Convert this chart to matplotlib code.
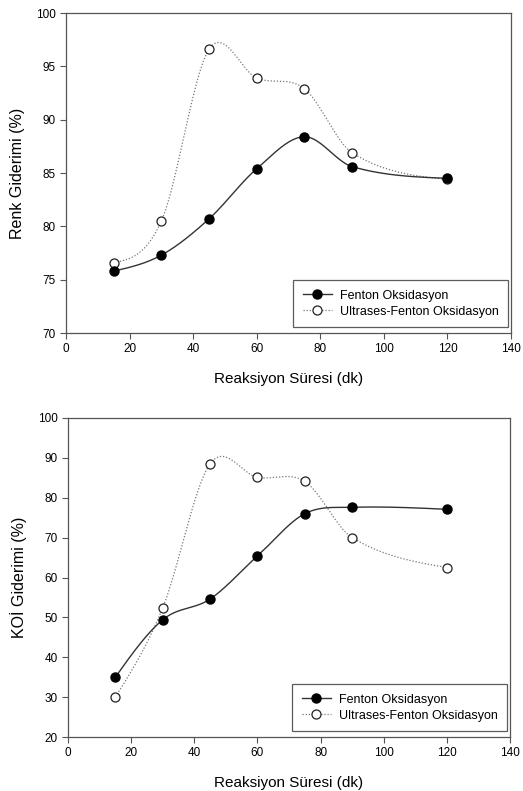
import numpy as np
import matplotlib
matplotlib.use("Agg")
import matplotlib.pyplot as plt
from matplotlib.lines import Line2D

plt.rcParams["font.family"] = ["Liberation Sans", "DejaVu Sans"]

# ============================================================
# DATA
# ============================================================
sure = [15, 30, 45, 60, 75, 90, 120]

renk_fenton    = [75.8, 77.3, 80.7, 85.4, 88.4, 85.6, 84.5]
renk_ultrases  = [76.6, 80.5, 96.6, 93.9, 92.9, 86.9, 84.4]

koi_fenton     = [35.0, 49.4, 54.6, 65.4, 76.0, 77.6, 77.1]
koi_ultrases   = [30.0, 52.4, 88.5, 85.1, 84.1, 70.0, 62.5]

x_ticks = [0, 20, 40, 60, 80, 100, 120, 140]
renk_ticks = [70, 75, 80, 85, 90, 95, 100]
koi_ticks = [20, 30, 40, 50, 60, 70, 80, 90, 100]

LBL_FENTON = "Fenton Oksidasyon"
LBL_ULTRA = "Ultrases-Fenton Oksidasyon"
XLABEL = "Reaksiyon Süresi (dk)"
# ============================================================

LINE_C = "#333333"
DOT_C = "#777777"
SPINE_C = "#555555"


def smooth_curve(x, y, n=60):
    # hermite curve through the points (centred tangents, natural ends)
    x = np.asarray(x, float)
    y = np.asarray(y, float)
    k = len(x)
    m = np.zeros(k)
    for i in range(1, k - 1):
        m[i] = (y[i + 1] - y[i - 1]) / (x[i + 1] - x[i - 1])
    s0 = (y[1] - y[0]) / (x[1] - x[0])
    s1 = (y[-1] - y[-2]) / (x[-1] - x[-2])
    m[0] = (3 * s0 - m[1]) / 2
    m[-1] = (3 * s1 - m[-2]) / 2
    xs_all, ys_all = [], []
    for i in range(k - 1):
        h = x[i + 1] - x[i]
        t = np.linspace(0, 1, n)
        h00 = 2 * t**3 - 3 * t**2 + 1
        h10 = t**3 - 2 * t**2 + t
        h01 = -2 * t**3 + 3 * t**2
        h11 = t**3 - t**2
        xs_all.append(x[i] + t * h)
        ys_all.append(h00 * y[i] + h10 * h * m[i] + h01 * y[i + 1] + h11 * h * m[i + 1])
    return np.concatenate(xs_all), np.concatenate(ys_all)


def draw_panel(ax, fenton, ultra, yticks, ylabel):
    xs, ys = smooth_curve(sure, ultra)
    ax.plot(xs, ys, color=DOT_C, linestyle=(0, (1, 1.5)), linewidth=0.9, zorder=2)
    xs, ys = smooth_curve(sure, fenton)
    ax.plot(xs, ys, color=LINE_C, linewidth=1.0, zorder=2)
    ax.plot(sure, ultra, "o", markersize=6.5, markerfacecolor="white",
            markeredgecolor="#222222", markeredgewidth=0.9, zorder=3)
    ax.plot(sure, fenton, "o", markersize=6.5, color="black", zorder=4)

    ax.set_xlim(0, 140)
    ax.set_ylim(yticks[0], yticks[-1])
    ax.set_xticks(x_ticks)
    ax.set_yticks(yticks)
    ax.tick_params(direction="out", length=4, width=0.8, labelsize=8.5,
                   color=SPINE_C, top=False, right=False)
    for s in ax.spines.values():
        s.set_color(SPINE_C)
        s.set_linewidth(0.9)
    ax.set_xlabel(XLABEL, fontsize=11, labelpad=12)
    ax.set_ylabel(ylabel, fontsize=11.5, labelpad=8)

    handles = [
        Line2D([], [], color=LINE_C, linewidth=1.0, marker="o", markersize=6.5,
               markerfacecolor="black", markeredgecolor="black"),
        Line2D([], [], color=DOT_C, linestyle=(0, (1, 1.5)), linewidth=0.9,
               marker="o", markersize=6.5, markerfacecolor="white",
               markeredgecolor="#222222", markeredgewidth=0.9),
    ]
    leg = ax.legend(handles, [LBL_FENTON, LBL_ULTRA], loc="lower right",
                    bbox_to_anchor=(0.993, 0.019), borderaxespad=0, fontsize=9,
                    frameon=True, fancybox=False, handlelength=2.3,
                    handletextpad=0.65, borderpad=0.75, labelspacing=0.3)
    leg.get_frame().set_edgecolor("#333333")
    leg.get_frame().set_linewidth(0.9)


fig = plt.figure(figsize=(5.23, 7.91), dpi=100)
ax1 = fig.add_axes([66 / 523, 1 - 333 / 791, (511 - 66) / 523, (333 - 13) / 791])
ax2 = fig.add_axes([68 / 523, 1 - 737 / 791, (510 - 68) / 523, (737 - 418) / 791])

draw_panel(ax1, renk_fenton, renk_ultrases, renk_ticks, "Renk Giderimi (%)")
draw_panel(ax2, koi_fenton, koi_ultrases, koi_ticks, "KOİ Giderimi (%)")

fig.savefig("out.png", dpi=100)
